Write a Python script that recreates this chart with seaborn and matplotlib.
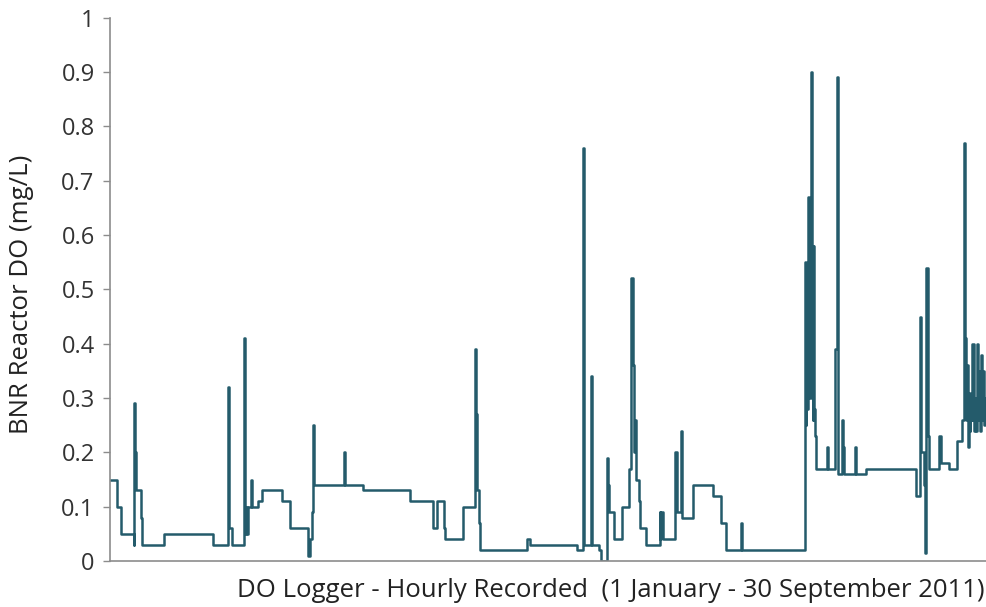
import numpy as np
import pandas as pd
import seaborn as sns
import matplotlib
matplotlib.use("Agg")
import matplotlib.pyplot as plt

# DO logger readings, hour index since 1 Jan 2011 where the value changes
hours = [0, 52, 82, 176, 179, 187, 194, 235, 243, 403, 770, 885, 893, 915,
         1001, 1009, 1016, 1024, 1031, 1057, 1065, 1106, 1139, 1289, 1345,
         1483, 1498, 1509, 1517, 1524, 1748, 1756, 1890, 2241, 2413, 2443,
         2495, 2506, 2637, 2727, 2734, 2742, 2757, 2764, 3119, 3145, 3493,
         3541, 3549, 3597, 3605, 3661, 3672, 3717, 3724, 3732, 3773, 3833,
         3885, 3900, 3911, 3922, 3930, 3937, 3960, 3967, 4008, 4113, 4117,
         4120, 4139, 4229, 4240, 4270, 4277, 4363, 4512, 4568, 4606, 4718,
         4725, 5196, 5203, 5207, 5215, 5222, 5230, 5241, 5248, 5256, 5259,
         5267, 5274, 5282, 5360, 5368, 5420, 5439, 5446, 5476, 5484, 5491,
         5573, 5581, 5652, 6029, 6055, 6066, 6085, 6096, 6104, 6115, 6126,
         6201, 6212, 6276, 6335, 6373, 6384, 6392, 6399, 6407, 6414, 6422,
         6429, 6436, 6444, 6451, 6459, 6466, 6474, 6481, 6489, 6496, 6504,
         6511, 6519, 6526, 6534, 6541, 6552]

do_mgl = [0.15, 0.10, 0.05, 0.03, 0.29, 0.20, 0.13, 0.08, 0.03, 0.05, 0.03,
          0.32, 0.06, 0.03, 0.41, 0.05, 0.10, 0.05, 0.10, 0.15, 0.10, 0.11,
          0.13, 0.11, 0.06, 0.01, 0.04, 0.09, 0.25, 0.14, 0.20, 0.14, 0.13,
          0.11, 0.06, 0.11, 0.06, 0.04, 0.10, 0.39, 0.27, 0.13, 0.07, 0.02,
          0.04, 0.03, 0.02, 0.76, 0.03, 0.34, 0.03, 0.02, 0.00, 0.19, 0.14,
          0.09, 0.04, 0.10, 0.17, 0.52, 0.36, 0.20, 0.26, 0.15, 0.11, 0.06,
          0.03, 0.09, 0.04, 0.09, 0.04, 0.20, 0.09, 0.24, 0.08, 0.14, 0.12,
          0.07, 0.02, 0.07, 0.02, 0.55, 0.25, 0.46, 0.28, 0.67, 0.30, 0.90,
          0.58, 0.26, 0.58, 0.28, 0.23, 0.17, 0.21, 0.17, 0.39, 0.89, 0.16,
          0.26, 0.21, 0.16, 0.21, 0.16, 0.17, 0.12, 0.45, 0.20, 0.14, 0.015,
          0.54, 0.23, 0.17, 0.23, 0.18, 0.17, 0.22, 0.26, 0.77, 0.41, 0.26,
          0.36, 0.21, 0.31, 0.24, 0.30, 0.26, 0.40, 0.24, 0.30, 0.24, 0.40,
          0.26, 0.35, 0.24, 0.38, 0.26, 0.35, 0.25, 0.30, 0.30]

yticks = [0, 0.1, 0.2, 0.3, 0.4, 0.5, 0.6, 0.7, 0.8, 0.9, 1]
ytick_labels = ["0", "0.1", "0.2", "0.3", "0.4", "0.5", "0.6", "0.7", "0.8", "0.9", "1"]

sns.set_style("white")
plt.rcParams["font.family"] = ["Open Sans", "DejaVu Sans"]

data = pd.DataFrame({"hour": hours, "do": do_mgl})

fig = plt.figure(figsize=(9.87, 6.07), dpi=100)
ax = fig.add_axes([110 / 987, 1 - 561 / 607, 876 / 987, (561 - 17.7) / 607])

sns.lineplot(data=data, x="hour", y="do", ax=ax, color="#245b6b",
             linewidth=1.8, drawstyle="steps-post", sort=False)

ax.set_xlim(0, 6552)
ax.set_ylim(0, 1)
ax.set_xticks([])
ax.set_yticks(yticks)
ax.set_yticklabels(ytick_labels, fontsize=17, color="#333333")
ax.tick_params(axis="y", direction="out", length=5, width=1, color="#8c8c8c",
               left=True, pad=6)

sns.despine(ax=ax)
for side in ["left", "bottom"]:
    ax.spines[side].set_color("#8c8c8c")
    ax.spines[side].set_linewidth(1.2)

ax.set_xlabel("")
ax.set_ylabel("BNR Reactor DO (mg/L)", fontsize=18.5, color="#222222")
ax.yaxis.set_label_coords(-76 / 876, 0.49)
fig.text(985 / 987, 1 - 597 / 607,
         "DO Logger - Hourly Recorded  (1 January - 30 September 2011)",
         ha="right", va="baseline", fontsize=18.5, color="#222222")

fig.savefig("out.png", dpi=100)
